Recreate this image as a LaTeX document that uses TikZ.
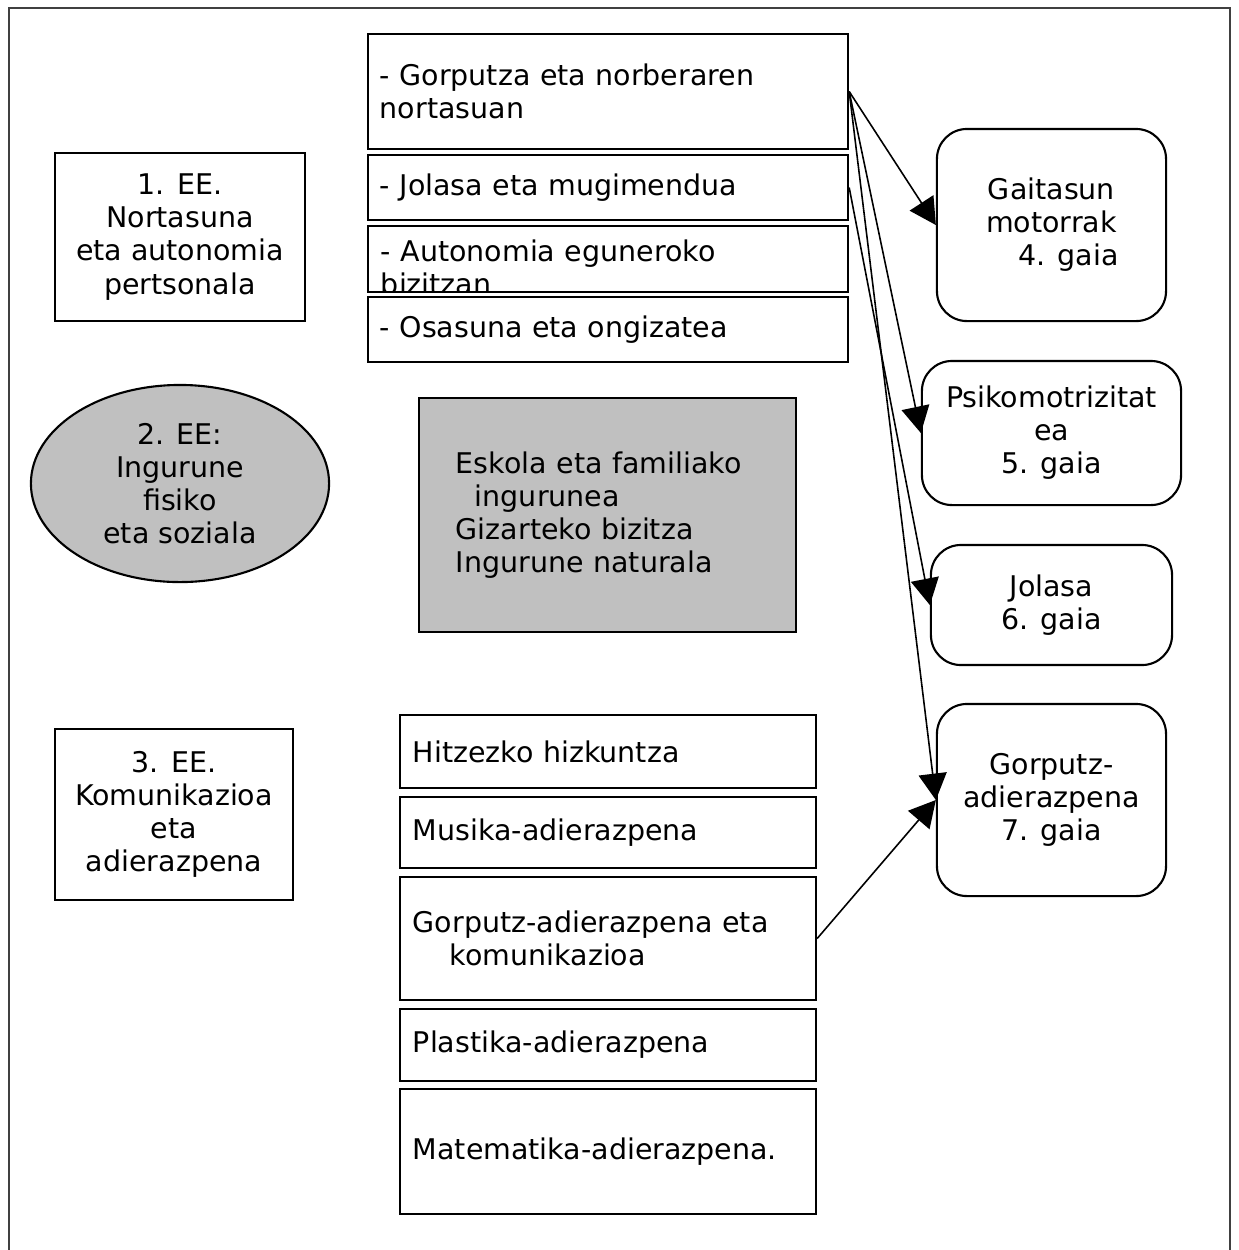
\documentclass[tikz,border=0pt]{standalone}
\usepackage{fontspec}
\setmainfont{DejaVu Sans}
\usetikzlibrary{arrows.meta,shapes.geometric}
\definecolor{G}{RGB}{192,192,192}

\begin{document}
\begin{tikzpicture}[x=0.01cm, y=-0.01cm,
   font=\fontsize{8.1}{9.4}\selectfont,
   box/.style={draw=black, line width=0.6pt, rectangle, inner sep=0pt},
   block/.style={box, align=center},
   item/.style={box, minimum width=4.8cm, text width=4.56cm, align=left},
   sub/.style={box, minimum width=4.16cm, text width=3.9cm, align=left},
   topic/.style={box, rounded corners=0.3cm, align=center},
   link/.style={line width=0.45pt, -{Triangle[length=7.5pt,width=8pt]}}]
   \useasboundingbox (0,0) rectangle (1239,1250);
   \draw[black!75, line width=0.5pt] (9,1250) -- (9,8) -- (1230,8) -- (1230,1250);

   \node[block, minimum width=2.5cm, minimum height=1.68cm] (ee1) at (180,237) {1. EE.\\Nortasuna\\eta autonomia\\pertsonala};
   \node[item, minimum height=1.15cm] (t1) at (608,91.5) {- Gorputza eta norberaren\\nortasuan};
   \node[item, minimum height=0.65cm] (t2) at (608,187.5) {- Jolasa eta mugimendua};
   \node[item, minimum height=0.66cm, path picture={
      \node[draw=none, anchor=north west, inner sep=0pt, text width=4.56cm, align=left]
         at ([yshift=-0.07cm]path picture bounding box.north west) {- Autonomia eguneroko\\bizitzan};
      }] (t3) at (608,259) {};
   \node[item, minimum height=0.65cm] (t4) at (608,329.5) {- Osasuna eta ongizatea};

   \node[box, ellipse, fill=G, minimum width=2.98cm, minimum height=1.97cm, align=center] (ee2) at (180,483.5) {2. EE:\\Ingurune\\fisiko\\eta soziala};
   \node[box, fill=G, minimum width=3.77cm, minimum height=2.34cm, text width=3.03cm, align=left] (env) at (607.5,515) {Eskola eta familiako\\\hspace*{0.19cm}ingurunea\\Gizarteko bizitza\\Ingurune naturala};

   \node[block, minimum width=2.38cm, minimum height=1.71cm] (ee3) at (174,814.5) {3. EE.\\Komunikazioa\\eta\\adierazpena};
   \node[sub, minimum height=0.73cm] (c1) at (608,751.5) {Hitzezko hizkuntza};
   \node[sub, minimum height=0.71cm] (c2) at (608,832.5) {Musika-adierazpena};
   \node[sub, minimum height=1.23cm] (c3) at (608,938.5) {Gorputz-adierazpena eta\\\hspace*{0.37cm}komunikazioa};
   \node[sub, minimum height=0.72cm] (c4) at (608,1045) {Plastika-adierazpena};
   \node[sub, minimum height=1.25cm] (c5) at (608,1151.5) {Matematika-adierazpena.};

   \node[topic, minimum width=2.29cm, minimum height=1.92cm] (r1) at (1051.5,225) {Gaitasun\\motorrak\\\hspace*{0.34cm}4. gaia};
   \node[topic, minimum width=2.59cm, minimum height=1.44cm] (r2) at (1051.5,433) {Psikomotrizitat\\ea\\5. gaia};
   \node[topic, minimum width=2.41cm, minimum height=1.2cm] (r3) at (1051.5,605) {Jolasa\\6. gaia};
   \node[topic, minimum width=2.29cm, minimum height=1.92cm] (r4) at (1051.5,800) {Gorputz-\\adierazpena\\7. gaia};

   \draw[link] (t1.east) -- (r1.west);
   \draw[link] (t1.east) -- (r2.west);
   \draw[link] (t1.east) -- (r4.west);
   \draw[link] (t2.east) -- (r3.west);
   \draw[link] (c3.east) -- (r4.west);
\end{tikzpicture}
\end{document}
